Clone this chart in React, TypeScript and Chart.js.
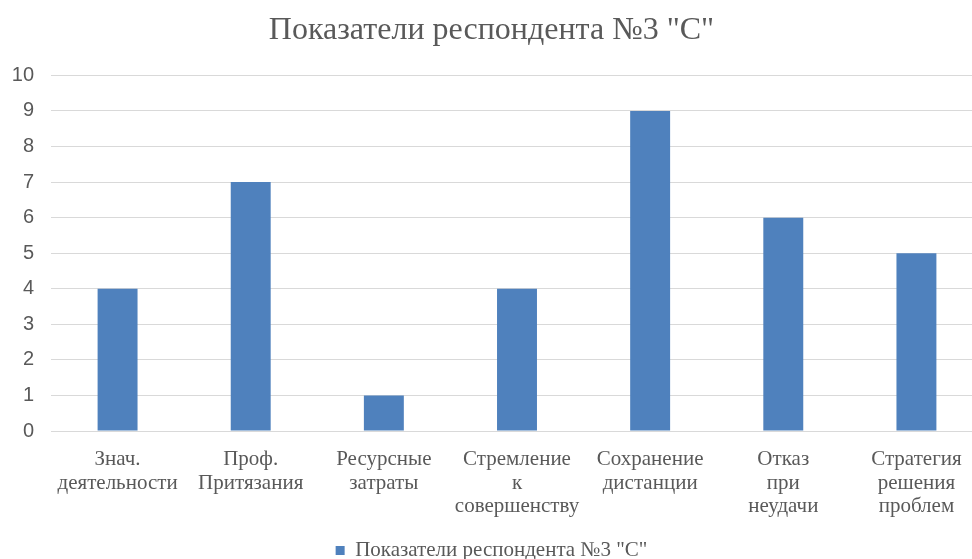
import React, { useEffect, useRef } from "react";
import { Chart, registerables } from "chart.js";

Chart.register(...registerables);

const categories: string[][] = [
  ["Знач.", "деятельности"],
  ["Проф.", "Притязания"],
  ["Ресурсные", "затраты"],
  ["Стремление", "к", "совершенству"],
  ["Сохранение", "дистанции"],
  ["Отказ", "при", "неудачи"],
  ["Стратегия", "решения", "проблем"],
];
const values: number[] = [4, 7, 1, 4, 9, 6, 5];
const seriesName = 'Показатели респондента №3 "С"';
const titleText = 'Показатели респондента №3 "С"';

export default function App() {
  const ref = useRef<HTMLCanvasElement | null>(null);
  useEffect(() => {
    if (!ref.current) return;
    const chart = new Chart(ref.current, {
      type: "bar",
      data: {
        labels: categories,
        datasets: [
          {
            label: seriesName,
            data: values,
            backgroundColor: "#4F81BD",
            borderWidth: 0,
            barPercentage: 0.3,
            categoryPercentage: 1,
          },
        ],
      },
      options: {
        animation: false,
        responsive: false,
        maintainAspectRatio: false,
        layout: { padding: { left: 0, right: 0, top: 0, bottom: 0 } },
        plugins: {
          title: {
            display: true,
            text: titleText,
            color: "#595959",
            font: { family: "'Liberation Serif', serif", size: 32, weight: "normal" },
            padding: { top: 11, bottom: 26 },
          },
          legend: {
            position: "bottom",
            labels: {
              color: "#595959",
              font: { family: "'Liberation Serif', serif", size: 21 },
              boxWidth: 9,
              boxHeight: 9,
              padding: 4,
            },
          },
          tooltip: { enabled: false },
        },
        scales: {
          x: {
            grid: { display: false, drawTicks: false },
            border: { color: "#d9d9d9", width: 1 },
            ticks: {
              color: "#595959",
              font: { family: "'Liberation Serif', serif", size: 21, lineHeight: 1.12 },
              padding: 17,
              maxRotation: 0,
              minRotation: 0,
              autoSkip: false,
            },
            afterFit: (scale: any) => {
              scale.height = 105;
            },
          },
          y: {
            min: 0,
            max: 10,
            grid: { color: "#d9d9d9", drawTicks: false },
            border: { display: false },
            ticks: {
              stepSize: 1,
              color: "#595959",
              font: { family: "'Liberation Sans', sans-serif", size: 20 },
              padding: 17,
            },
            afterFit: (scale: any) => {
              scale.width = 51;
            },
          },
        },
      },
    });
    return () => chart.destroy();
  }, []);
  return (
    <div
      style={{
        position: "fixed",
        left: 0,
        top: 0,
        width: 972,
        height: 559,
        overflow: "hidden",
        background: "#fff",
      }}
    >
      <canvas ref={ref} width={983} height={571} style={{ display: "block" }} />
    </div>
  );
}
